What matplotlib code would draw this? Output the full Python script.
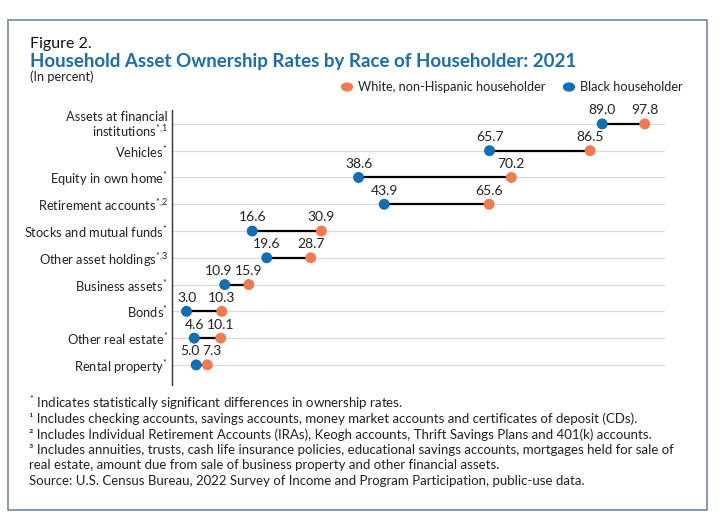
import matplotlib
matplotlib.use("Agg")
import matplotlib.pyplot as plt
from matplotlib.patches import Rectangle

plt.rcParams['font.family'] = ['Lato', 'DejaVu Sans']
plt.rcParams['mathtext.fontset'] = 'custom'
plt.rcParams['mathtext.rm'] = 'Lato'

categories = ["Assets at financial\ninstitutions$^{*{,}1}$", "Vehicles$^{*}$", "Equity in own home$^{*}$",
              "Retirement accounts$^{*{,}2}$", "Stocks and mutual funds$^{*}$", "Other asset holdings$^{*{,}3}$",
              "Business assets$^{*}$", "Bonds$^{*}$", "Other real estate$^{*}$", "Rental property$^{*}$"]
white = [97.8, 86.5, 70.2, 65.6, 30.9, 28.7, 15.9, 10.3, 10.1, 7.3]
black = [89.0, 65.7, 38.6, 43.9, 16.6, 19.6, 10.9, 3.0, 4.6, 5.0]

ORANGE = "#F07B4E"
BLUE = "#0F6FB5"
TITLE = "#1A6DAF"
TXT = "#222222"

fig = plt.figure(figsize=(7.27, 5.27), dpi=100)
fig.patches.append(Rectangle((8/727, 1-510/527), 699/727, 490/527, transform=fig.transFigure,
                             fill=False, edgecolor="#6F88AA", linewidth=1.2))

ax = fig.add_axes([172/727, 1-385/527, 493/727, 275/527])
ys = list(range(len(categories)))
for y, w, b in zip(ys, white, black):
    ax.axhline(y, color="#DADADA", linewidth=0.9, zorder=0)
    ax.plot([b, w], [y, y], color="black", linewidth=1.6, zorder=2)
    ax.scatter([w], [y], s=62, color=ORANGE, zorder=3, edgecolors='none')
    ax.scatter([b], [y], s=62, color=BLUE, zorder=3, edgecolors='none')
    gap = abs(w - b)
    dxb = -4.5 if gap < 5.2 else 0
    dxw = 3.5 if gap < 4 else 0
    ax.annotate(f"{w:.1f}", (w, y), xytext=(dxw, 5.5), textcoords="offset points",
                ha="center", va="bottom", fontsize=10, color=TXT)
    ax.annotate(f"{b:.1f}", (b, y), xytext=(dxb, 5.5), textcoords="offset points",
                ha="center", va="bottom", fontsize=10, color=TXT)

ax.set_xlim(0, 102)
ax.set_ylim(9.75, -0.52)
ax.set_yticks(ys)
ax.set_yticklabels(categories, fontsize=9.3, color=TXT, linespacing=1.0)
ax.tick_params(axis='y', length=0, pad=3)
ax.set_xticks([])
for s in ["top", "right", "bottom"]:
    ax.spines[s].set_visible(False)
ax.spines["left"].set_color("#333333")
ax.spines["left"].set_linewidth(1.0)

fig.text(30/727, 1-44/527, "Figure 2.", fontsize=11.5, color="#111111", va="center")
fig.text(30/727, 1-62/527, "Household Asset Ownership Rates by Race of Householder: 2021",
         fontsize=13.5, color=TITLE, fontweight="bold", va="center")
fig.text(30/727, 1-77/527, "(In percent)", fontsize=9.2, color=TXT, va="center")

fig.patches.append(plt.Circle((347/727, 1-87/527), 0.0075, transform=fig.transFigure, color=ORANGE))
fig.text(358/727, 1-87/527, "White, non-Hispanic householder", fontsize=9.2, color=TXT, va="center")
fig.patches.append(plt.Circle((569/727, 1-87/527), 0.0075, transform=fig.transFigure, color=BLUE))
fig.text(580/727, 1-87/527, "Black householder", fontsize=9.2, color=TXT, va="center")

notes = [
    (403, "$^{*}$ Indicates statistically significant differences in ownership rates."),
    (419, "¹ Includes checking accounts, savings accounts, money market accounts and certificates of deposit (CDs)."),
    (435, "² Includes Individual Retirement Accounts (IRAs), Keogh accounts, Thrift Savings Plans and 401(k) accounts."),
    (450, "³ Includes annuities, trusts, cash life insurance policies, educational savings accounts, mortgages held for sale of"),
    (465, "real estate, amount due from sale of business property and other financial assets."),
    (481, "Source: U.S. Census Bureau, 2022 Survey of Income and Program Participation, public-use data."),
]
for y, t in notes:
    fig.text(29/727, 1-y/527, t, fontsize=9.5, color=TXT, va="center")

fig.savefig("out.png", dpi=100)
